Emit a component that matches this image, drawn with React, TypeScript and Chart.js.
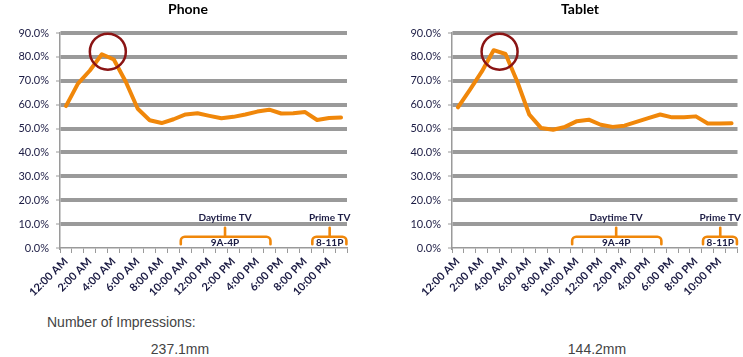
import React, { useEffect, useRef } from "react";
import { Chart, registerables } from "chart.js";

Chart.register(...registerables);

const hours = [
  "12:00 AM", "1:00 AM", "2:00 AM", "3:00 AM", "4:00 AM", "5:00 AM",
  "6:00 AM", "7:00 AM", "8:00 AM", "9:00 AM", "10:00 AM", "11:00 AM",
  "12:00 PM", "1:00 PM", "2:00 PM", "3:00 PM", "4:00 PM", "5:00 PM",
  "6:00 PM", "7:00 PM", "8:00 PM", "9:00 PM", "10:00 PM", "11:00 PM",
];

const phoneValues = [
  59.4, 68.8, 74.3, 81.1, 78.9, 69.6, 58.3, 53.5, 52.3, 53.9, 55.9, 56.4,
  55.3, 54.3, 54.9, 55.9, 57.1, 57.9, 56.3, 56.4, 56.9, 53.6, 54.4, 54.6,
];

const tabletValues = [
  58.9, 66.2, 73.8, 82.8, 81.2, 69.5, 55.8, 50.2, 49.5, 50.7, 53.1, 53.7,
  51.6, 50.7, 51.2, 52.8, 54.4, 55.9, 54.7, 54.7, 55.1, 52.1, 52.1, 52.2,
];

const yTicks = [0, 10, 20, 30, 40, 50, 60, 70, 80, 90];

const titles = ["Phone", "Tablet"];
const impressions = ["237.1mm", "144.2mm"];
const impressionsLabel = "Number of Impressions:";

const brackets = [
  { from: 9.6, to: 17.1, stem: 13.3, label: "Daytime TV", sub: "9A-4P" },
  { from: 20.6, to: 23.45, stem: 22.05, label: "Prime TV", sub: "8-11P" },
];

const ORANGE = "#F0870A";
const GRID = "#9A9A9A";
const TEXT = "#1C1C44";
const FONT = "Lato, 'Open Sans', sans-serif";

const annotationPlugin = {
  id: "annots",
  afterDatasetsDraw(chart: any) {
    const ctx = chart.ctx;
    const xs = chart.scales.x;
    const ys = chart.scales.y;
    ctx.save();
    // circle highlight
    ctx.beginPath();
    ctx.arc(xs.getPixelForValue(3.5), ys.getPixelForValue(82.2), 18, 0, Math.PI * 2);
    ctx.strokeStyle = "#8A1414";
    ctx.lineWidth = 2.5;
    ctx.stroke();

    // brackets
    const yH = ys.getPixelForValue(4.7);
    const yB = ys.getPixelForValue(1.6);
    const yT = ys.getPixelForValue(8.5);
    const r = 4;
    ctx.strokeStyle = ORANGE;
    ctx.lineWidth = 2.6;
    ctx.lineJoin = "round";
    ctx.lineCap = "round";
    for (const b of brackets) {
      const x1 = xs.getPixelForValue(b.from);
      const x2 = xs.getPixelForValue(b.to);
      const xm = xs.getPixelForValue(b.stem);
      ctx.beginPath();
      ctx.moveTo(x1, yB);
      ctx.arcTo(x1, yH, x1 + r, yH, r);
      ctx.arcTo(x2, yH, x2, yH + r, r);
      ctx.lineTo(x2, yB);
      ctx.stroke();
      ctx.beginPath();
      ctx.moveTo(xm, yH);
      ctx.lineTo(xm, yT);
      ctx.stroke();

      ctx.fillStyle = TEXT;
      ctx.textAlign = "center";
      ctx.textBaseline = "middle";
      ctx.font = `bold 10px ${FONT}`;
      ctx.fillText(b.label, xm, ys.getPixelForValue(12.7));
      ctx.fillText(b.sub, xm, ys.getPixelForValue(2.0));
    }
    ctx.restore();
  },
};

function LineChart({ values, yWidth, padRight }: { values: number[]; yWidth: number; padRight: number }) {
  const ref = useRef<HTMLCanvasElement | null>(null);
  useEffect(() => {
    if (!ref.current) return;
    const chart = new Chart(ref.current, {
      type: "line",
      data: {
        labels: hours,
        datasets: [
          {
            data: values,
            borderColor: ORANGE,
            borderWidth: 4,
            pointRadius: 0,
            tension: 0,
            borderJoinStyle: "round",
            borderCapStyle: "round",
            fill: false,
          },
        ],
      },
      options: {
        responsive: false,
        animation: false,
        devicePixelRatio: 1,
        layout: { padding: { top: 33, right: padRight, left: 0, bottom: 0 } },
        plugins: { legend: { display: false }, title: { display: false }, tooltip: { enabled: false } },
        scales: {
          x: {
            type: "category",
            offset: true,
            grid: {
              offset: true,
              drawOnChartArea: false,
              drawTicks: true,
              tickLength: 5,
              tickColor: GRID,
              tickWidth: 1,
            },
            border: { display: true, color: GRID, width: 1.5 },
            ticks: {
              autoSkip: false,
              maxRotation: 45,
              minRotation: 45,
              padding: 2,
              color: TEXT,
              font: { family: FONT, size: 11, weight: "bold" },
              callback: (_v: any, i: number) => (i % 2 === 0 ? hours[i] : ""),
            },
            afterFit: (s: any) => {
              s.height = 62;
            },
          },
          y: {
            min: 0,
            max: 90,
            afterBuildTicks: (s: any) => {
              s.ticks = yTicks.map((v) => ({ value: v }));
            },
            grid: {
              color: (c: any) => (c.tick && c.tick.value === 0 ? "rgba(0,0,0,0)" : GRID),
              lineWidth: 4,
              tickLength: 4,
              tickColor: GRID,
              tickWidth: 1,
            },
            border: { display: true, color: GRID, width: 1.5 },
            ticks: {
              padding: 7,
              color: TEXT,
              font: { family: FONT, size: 11 },
              callback: (v: any) => Number(v).toFixed(1) + "%",
            },
            afterFit: (s: any) => {
              s.width = yWidth;
            },
          },
        },
      },
      plugins: [annotationPlugin],
    } as any);
    return () => chart.destroy();
  }, [values, yWidth, padRight]);
  return <canvas ref={ref} width={yWidth === 60 ? 370 : 373} height={310} style={{ display: "block" }} />;
}

export default function App() {
  return (
    <div style={{ position: "absolute", left: 0, top: 0, width: 743, height: 357, background: "#fff", overflow: "hidden" }}>
      <div style={{ position: "absolute", left: 0, top: 0 }}>
        <LineChart values={phoneValues} yWidth={60} padRight={23} />
      </div>
      <div style={{ position: "absolute", left: 370, top: 0 }}>
        <LineChart values={tabletValues} yWidth={82} padRight={5} />
      </div>
      {titles.map((t, i) => (
        <div
          key={t}
          style={{
            position: "absolute",
            left: i === 0 ? 188 - 60 : 580 - 60,
            width: 120,
            top: 0,
            textAlign: "center",
            fontFamily: FONT,
            fontWeight: "bold",
            fontSize: 14,
            lineHeight: "17px",
            color: "#000",
          }}
        >
          {t}
        </div>
      ))}
      <div
        style={{
          position: "absolute",
          left: 47,
          top: 313,
          fontFamily: "'Liberation Sans', Arial, sans-serif",
          fontSize: 14,
          lineHeight: "18px",
          color: "#444",
          whiteSpace: "nowrap",
        }}
      >
        {impressionsLabel}
      </div>
      {impressions.map((v, i) => (
        <div
          key={v}
          style={{
            position: "absolute",
            left: (i === 0 ? 180 : 597) - 60,
            width: 120,
            top: 340,
            textAlign: "center",
            fontFamily: "'Liberation Sans', Arial, sans-serif",
            fontSize: 14,
            lineHeight: "18px",
            color: "#444",
          }}
        >
          {v}
        </div>
      ))}
    </div>
  );
}
